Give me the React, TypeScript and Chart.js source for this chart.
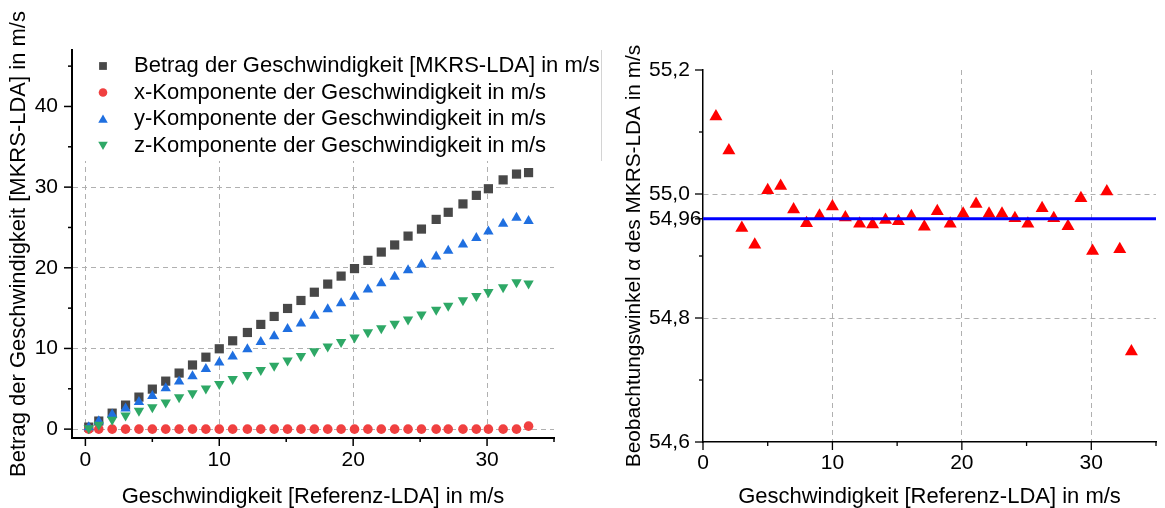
import React, { useEffect, useRef } from "react";
import { Chart, registerables } from "chart.js";
import { drawPoint } from "chart.js/helpers";

Chart.register(...registerables);

// ---------- data ----------
const speedLeft = [0.25, 1, 2, 3, 4, 5, 6, 7, 8, 9, 10, 11, 12.1, 13.1, 14.1, 15.1, 16.1, 17.1, 18.1, 19.1, 20.1, 21.1, 22.1, 23.1, 24.1, 25.1, 26.2, 27.1, 28.2, 29.2, 30.1, 31.2, 32.2, 33.1];
const betrag = [0.25, 1.0, 1.98, 2.98, 3.97, 4.96, 5.95, 6.95, 7.95, 8.92, 9.96, 10.95, 11.98, 12.98, 13.97, 14.96, 15.95, 16.97, 17.98, 18.97, 19.9, 20.92, 21.95, 22.83, 23.93, 24.8, 26.0, 26.88, 27.92, 28.98, 29.8, 30.9, 31.62, 31.8];
const xKomponente = [0.0, 0.0, 0.0, 0.0, 0.0, 0.0, 0.0, 0.0, 0.0, 0.0, 0.0, 0.0, 0.0, 0.0, 0.0, 0.0, 0.0, 0.0, 0.0, 0.0, 0.0, 0.0, 0.0, 0.0, 0.0, 0.0, 0.0, 0.0, 0.0, 0.0, 0.0, 0.0, 0.0, 0.37];
const yKomponente = [0.22, 0.97, 1.8, 2.55, 3.35, 4.1, 5.08, 5.9, 6.55, 7.45, 8.25, 9.0, 9.9, 10.8, 11.5, 12.4, 13.1, 14.05, 14.85, 15.6, 16.4, 17.3, 18.07, 18.9, 19.7, 20.4, 21.4, 22.1, 22.9, 23.7, 24.5, 25.45, 26.2, 25.8];
const zKomponente = [0.1, 0.55, 1.15, 1.7, 2.27, 2.72, 3.3, 3.95, 4.46, 5.05, 5.6, 6.2, 6.72, 7.33, 7.87, 8.5, 9.05, 9.65, 10.25, 10.8, 11.35, 12.0, 12.5, 13.05, 13.6, 14.2, 14.8, 15.3, 15.97, 16.5, 17.0, 17.6, 18.2, 18.05];

const speedRight = [1, 2, 3, 4, 5, 6, 7, 8, 9, 10, 11, 12.1, 13.1, 14.1, 15.1, 16.1, 17.1, 18.1, 19.1, 20.1, 21.1, 22.1, 23.1, 24.1, 25.1, 26.2, 27.1, 28.2, 29.2, 30.1, 31.2, 32.2, 33.1];
const winkel = [55.125, 55.07, 54.945, 54.918, 55.006, 55.013, 54.975, 54.953, 54.965, 54.98, 54.962, 54.952, 54.951, 54.958, 54.956, 54.964, 54.947, 54.972, 54.952, 54.968, 54.984, 54.968, 54.968, 54.961, 54.952, 54.977, 54.961, 54.948, 54.993, 54.908, 55.004, 54.911, 54.746];
const mittelwertWinkel = 54.96;
const mittelLinieX = [0, 35];

const seriesLabels = [
  "Betrag der Geschwindigkeit [MKRS-LDA] in m/s",
  "x-Komponente der Geschwindigkeit in m/s",
  "y-Komponente der Geschwindigkeit in m/s",
  "z-Komponente der Geschwindigkeit in m/s",
];

const leftXTicks = [0, 5, 10, 15, 20, 25, 30, 35];
const leftXTickLabels = ["0", "", "10", "", "20", "", "30", ""];
const leftYTicks = [0, 5, 10, 15, 20, 25, 30, 35, 40, 45];
const leftYTickLabels = ["0", "", "10", "", "20", "", "30", "", "40", ""];
const rightXTicks = [0, 5, 10, 15, 20, 25, 30, 35];
const rightXTickLabels = ["0", "", "10", "", "20", "", "30", ""];
const rightYTicks = [54.6, 54.7, 54.8, 54.9, 54.96, 55.0, 55.1, 55.2];
const rightYTickLabels = ["54,6", "", "54,8", "", "54,96", "55,0", "", "55,2"];

const leftGridX = [0, 10, 20, 30];
const leftGridY = [0, 10, 20, 30];
const rightGridX = [10, 20, 30];
const rightGridY = [54.8, 55.0];

const xTitle = "Geschwindigkeit [Referenz-LDA] in m/s";
const leftYTitle = "Betrag der Geschwindigkeit [MKRS-LDA] in m/s";
const rightYTitle = "Beobachtungswinkel α des MKRS-LDA in m/s";

// ---------- styles ----------
const FONT = "'Liberation Sans', Arial, 'DejaVu Sans', sans-serif";
const GRID = "#b0b0b0";
const colors = ["#484848", "#f04040", "#1f6fe0", "#2ea866"];

const inList = (v: number, list: number[]) => list.some((g) => Math.abs(g - v) < 1e-6);

const tickPlugin = {
  id: "tickMarks",
  afterDraw(chart: any, _a: any, opts: any) {
    const ctx = chart.ctx;
    ctx.save();
    ctx.strokeStyle = "#000";
    ctx.lineWidth = opts.width || 1.5;
    ["x", "y"].forEach((id) => {
      const s = chart.scales[id];
      s.ticks.forEach((t: any) => {
        const major = t.label !== "" && t.label != null;
        const len = major ? 8 : 4;
        const p = s.getPixelForValue(t.value);
        ctx.beginPath();
        if (id === "x") {
          ctx.moveTo(p, s.top);
          ctx.lineTo(p, s.top + len);
        } else {
          ctx.moveTo(s.right, p);
          ctx.lineTo(s.right - len, p);
        }
        ctx.stroke();
      });
    });
    ctx.restore();
  },
};

const legendPlugin = {
  id: "innerLegend",
  beforeDatasetsDraw(chart: any) {
    const ctx = chart.ctx;
    ctx.save();
    ctx.fillStyle = "#fff";
    ctx.fillRect(75, 0, 530, 161);
    ctx.restore();
  },
  afterDraw(chart: any) {
    const ctx = chart.ctx;
    ctx.save();
    const styles = [
      { pointStyle: "rect", radius: 5.5, rotation: 0 },
      { pointStyle: "circle", radius: 4.3, rotation: 0 },
      { pointStyle: "triangle", radius: 5.5, rotation: 0 },
      { pointStyle: "triangle", radius: 5.5, rotation: 180 },
    ];
    const rowsY = [66, 92.5, 119, 145.5];
    chart.data.datasets.forEach((ds: any, i: number) => {
      ctx.fillStyle = colors[i];
      drawPoint(ctx, { ...styles[i], borderWidth: 0 } as any, 103, rowsY[i] + (i === 2 ? 1 : i === 3 ? -1 : 0));
      ctx.fillStyle = "#000";
      ctx.font = `22px ${FONT}`;
      ctx.textBaseline = "middle";
      ctx.textAlign = "left";
      ctx.fillText(ds.label, 134, rowsY[i]);
    });
    ctx.restore();
  },
};

const frameLinePlugin = {
  id: "frameLine",
  afterDraw(chart: any) {
    const ctx = chart.ctx;
    ctx.save();
    ctx.strokeStyle = "#d4d4d4";
    ctx.lineWidth = 1;
    ctx.beginPath();
    ctx.moveTo(1.5, 50);
    ctx.lineTo(1.5, 161);
    ctx.stroke();
    ctx.restore();
  },
};

function makeScale(
  ticksV: number[],
  labels: string[],
  min: number,
  max: number,
  gridVals: number[],
  title: string,
  axis: "x" | "y",
  opts: { fit: number; tickPad: number; titlePad: number; borderW: number; titleSize: number; crossAlign?: string }
) {
  return {
    type: "linear",
    min,
    max,
    afterBuildTicks: (s: any) => {
      s.ticks = ticksV.map((v) => ({ value: v }));
    },
    afterFit: (s: any) => {
      if (axis === "x") s.height = opts.fit;
      else s.width = opts.fit;
    },
    ticks: {
      autoSkip: false,
      maxRotation: 0,
      padding: opts.tickPad,
      crossAlign: opts.crossAlign || "near",
      color: "#000",
      font: { family: FONT, size: 21, lineHeight: 1.2 },
      callback: (_v: any, i: number) => labels[i],
    },
    grid: {
      drawTicks: false,
      lineWidth: 1,
      color: (c: any) => (c.tick && inList(c.tick.value, gridVals) ? GRID : "rgba(0,0,0,0)"),
    },
    border: { display: true, color: "#000", width: opts.borderW, dash: [5, 4] },
    title: {
      display: true,
      text: title,
      color: "#000",
      font: { family: FONT, size: opts.titleSize, lineHeight: 1 },
      padding: axis === "x" ? { top: 0, bottom: opts.titlePad } : { top: opts.titlePad, bottom: 0 },
    },
  };
}

function LeftChart() {
  const ref = useRef<HTMLCanvasElement>(null);
  useEffect(() => {
    const mk = (ys: number[]) => speedLeft.map((x, i) => ({ x, y: ys[i] }));
    const chart = new Chart(ref.current as HTMLCanvasElement, {
      type: "scatter",
      data: {
        datasets: [
          { label: seriesLabels[0], data: mk(betrag), pointStyle: "rect", pointRadius: 6.5, backgroundColor: colors[0], borderWidth: 0, order: 4 },
          { label: seriesLabels[1], data: mk(xKomponente), pointStyle: "circle", pointRadius: 4.8, backgroundColor: colors[1], borderWidth: 0, order: 3 },
          { label: seriesLabels[2], data: mk(yKomponente), pointStyle: "triangle", pointRadius: 6, backgroundColor: colors[2], borderWidth: 0, order: 2 },
          { label: seriesLabels[3], data: mk(zKomponente), pointStyle: "triangle", rotation: 180, pointRadius: 6, backgroundColor: colors[3], borderWidth: 0, order: 1 },
        ] as any,
      },
      options: {
        animation: false,
        responsive: false,
        layout: { padding: { left: 0, top: 50, right: 46, bottom: 0 } },
        plugins: { legend: { display: false }, tooltip: { enabled: false }, tickMarks: { width: 1.5 } } as any,
        scales: {
          x: makeScale(leftXTicks, leftXTickLabels, -1, 35, leftGridX, xTitle, "x", { fit: 70, tickPad: 10, titlePad: 0, borderW: 2, titleSize: 22 }),
          y: makeScale(leftYTicks, leftYTickLabels, -1.1, 47, leftGridY, leftYTitle, "y", { fit: 72, tickPad: 14, titlePad: 8, borderW: 2, titleSize: 22 }),
        } as any,
      },
      plugins: [legendPlugin, tickPlugin],
    });
    return () => chart.destroy();
  }, []);
  return <canvas ref={ref} width={600} height={508} style={{ display: "block" }} />;
}

function RightChart() {
  const ref = useRef<HTMLCanvasElement>(null);
  useEffect(() => {
    const chart = new Chart(ref.current as HTMLCanvasElement, {
      type: "scatter",
      data: {
        datasets: [
          {
            label: "Mittelwert",
            data: mittelLinieX.map((x) => ({ x, y: mittelwertWinkel })),
            showLine: true,
            borderColor: "#0000ff",
            borderWidth: 3,
            pointRadius: 0,
            order: 0,
          },
          {
            label: "Beobachtungswinkel",
            data: speedRight.map((x, i) => ({ x, y: winkel[i] })),
            pointStyle: "triangle",
            pointRadius: 7.5,
            backgroundColor: "#ff0000",
            borderWidth: 0,
            order: 1,
          },
        ] as any,
      },
      options: {
        animation: false,
        responsive: false,
        layout: { padding: { left: 49, top: 70, right: 0, bottom: 0 } },
        plugins: { legend: { display: false }, tooltip: { enabled: false }, tickMarks: { width: 1.3 } } as any,
        scales: {
          x: makeScale(rightXTicks, rightXTickLabels, 0, 35, rightGridX, xTitle, "x", { fit: 66, tickPad: 9, titlePad: 0, borderW: 1.5, titleSize: 22 }),
          y: makeScale(rightYTicks, rightYTickLabels, 54.6, 55.2, rightGridY, rightYTitle, "y", { fit: 54, tickPad: 2, titlePad: -25, borderW: 1.5, titleSize: 20.8, crossAlign: "far" }),
        } as any,
      },
      plugins: [tickPlugin, frameLinePlugin],
    });
    return () => chart.destroy();
  }, []);
  return <canvas ref={ref} width={565} height={508} style={{ display: "block" }} />;
}

export default function App() {
  return (
    <div style={{ position: "absolute", left: 0, top: 0, width: 1165, height: 508, background: "#fff" }}>
      <div style={{ position: "absolute", left: 0, top: 0 }}>
        <LeftChart />
      </div>
      <div style={{ position: "absolute", left: 600, top: 0 }}>
        <RightChart />
      </div>
    </div>
  );
}
